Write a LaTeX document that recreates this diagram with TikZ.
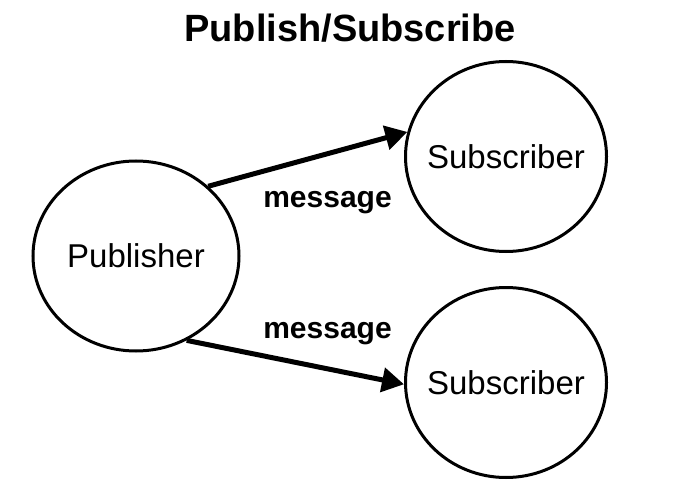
\documentclass[tikz,border=0pt]{standalone}
\usepackage{fontspec}
\setmainfont{Liberation Sans}
\usetikzlibrary{shapes.geometric,arrows.meta}
\begin{document}
\begin{tikzpicture}[x=1pt,y=-1pt,
  party/.style={ellipse,draw,line width=3pt,inner sep=0pt,
    minimum width=201pt,minimum height=190pt},
  partytext/.style={inner sep=0pt,font=\fontsize{33}{38}\selectfont},
  msg/.style={line width=5pt,-{Triangle[length=22pt,width=24pt]}},
  lbl/.style={anchor=base,inner sep=0pt,font=\fontsize{30}{36}\selectfont\bfseries},
  ttl/.style={anchor=base,inner sep=0pt,font=\fontsize{38}{44}\selectfont\bfseries}]
\useasboundingbox (0,0) rectangle (693,500);
\node[ttl] (title) at (350,42) {Publish/Subscribe};
\node[party,minimum width=206pt] (pub) at (136,256) {};
\node[party] (sub1) at (506,156.5) {};
\node[party] (sub2) at (506,382.5) {};
\node[partytext] (pubt) at (pub.center) {Publisher};
\node[partytext] (sub1t) at (sub1.center) {Subscriber};
\node[partytext] (sub2t) at (sub2.center) {Subscriber};
\node[lbl] (m1) at (327.5,207) {message};
\node[lbl] (m2) at (327.5,338) {message};
\draw[msg] (pub.44) -- (sub1.166);
\draw[msg] (pub.-59) -- (sub2.181);
\end{tikzpicture}
\end{document}
